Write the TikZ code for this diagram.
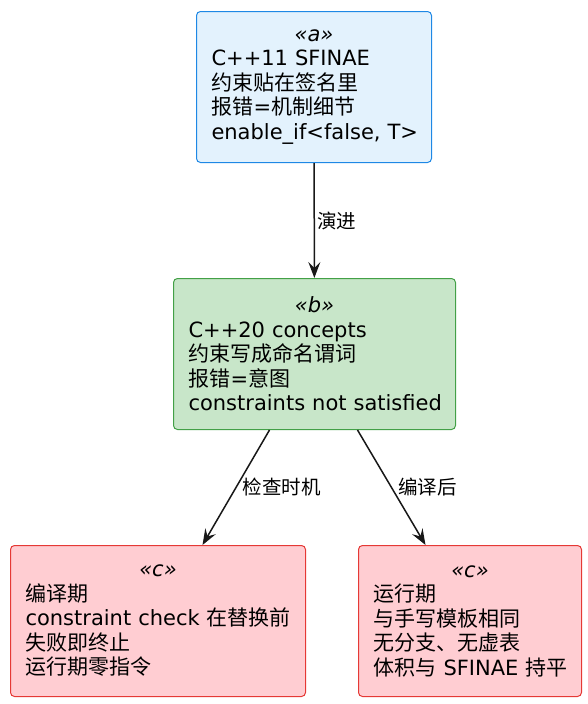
\documentclass[tikz,border=0pt]{standalone}
\usepackage{fontspec}
\setmainfont{DejaVu Sans}
\newfontfamily\cjk{Noto Sans CJK SC}
\usetikzlibrary{arrows.meta,positioning}

\definecolor{fillA}{HTML}{E3F2FD}
\definecolor{lineA}{HTML}{1E88E5}
\definecolor{fillB}{HTML}{C8E6C9}
\definecolor{lineB}{HTML}{43A047}
\definecolor{fillC}{HTML}{FFCDD2}
\definecolor{lineC}{HTML}{E53935}
\definecolor{edge}{HTML}{181818}

\newcommand{\stype}[1]{\makebox[\linewidth]{\textit{«#1»}}}
\hyphenpenalty=10000
\exhyphenpenalty=10000

\begin{document}
\begin{tikzpicture}[
  x=1pt, y=-1pt,
  font=\fontsize{21}{24.5}\selectfont, >={Stealth[length=16pt,width=12pt,inset=6pt]},
  line width=1.5pt,
  cls/.style={draw, rounded corners=4pt, line width=1pt, anchor=north west,
    inner xsep=15pt, inner ysep=0pt, align=left, minimum height=151pt},
  lbl/.style={font=\fontsize{19.5}{22}\selectfont\cjk, inner sep=2pt}
]
\useasboundingbox (0,0) rectangle (588,704);

\node[cls, draw=lineA, fill=fillA, text width=205pt] (a) at (196,11)
  {\stype{a}\\C++11~SFINAE\\{\cjk 约束贴在签名里}\\{\cjk 报错}={\cjk 机制细节}\\\mbox{enable\_if<false,~T>}};
  \node[cls, draw=lineB, fill=fillB, text width=252pt] (b) at (173,278)
    {\stype{b}\\C++20~concepts\\{\cjk 约束写成命名谓词}\\{\cjk 报错}={\cjk 意图}\\\mbox{constraints~not~satisfied}};
    \node[cls, draw=lineC, fill=fillC, text width=265pt] (c1) at (10,545)
      {\stype{c}\\{\cjk 编译期}\\\mbox{constraint~check~{\cjk 在替换前}}\\{\cjk 失败即终止}\\{\cjk 运行期零指令}};
    \node[cls, draw=lineC, fill=fillC, text width=193pt] (c2) at (358,545)
      {\stype{c}\\{\cjk 运行期}\\{\cjk 与手写模板相同}\\{\cjk 无分支、无虚表}\\\mbox{{\cjk 体积与}~SFINAE~{\cjk 持平}}};

\draw[->, draw=edge, fill=edge] (a) -- (b) node[lbl, midway, right] {演进};
  \draw[->, draw=edge, fill=edge] ([xshift=-45pt]b.south) -- ([xshift=44.5pt]c1.north)
    node[lbl, midway, right=4pt] {检查时机};
  \draw[->, draw=edge, fill=edge] ([xshift=43pt]b.south) -- ([xshift=-44.5pt]c2.north)
    node[lbl, midway, right=4pt] {编译后};
\end{tikzpicture}
\end{document}
